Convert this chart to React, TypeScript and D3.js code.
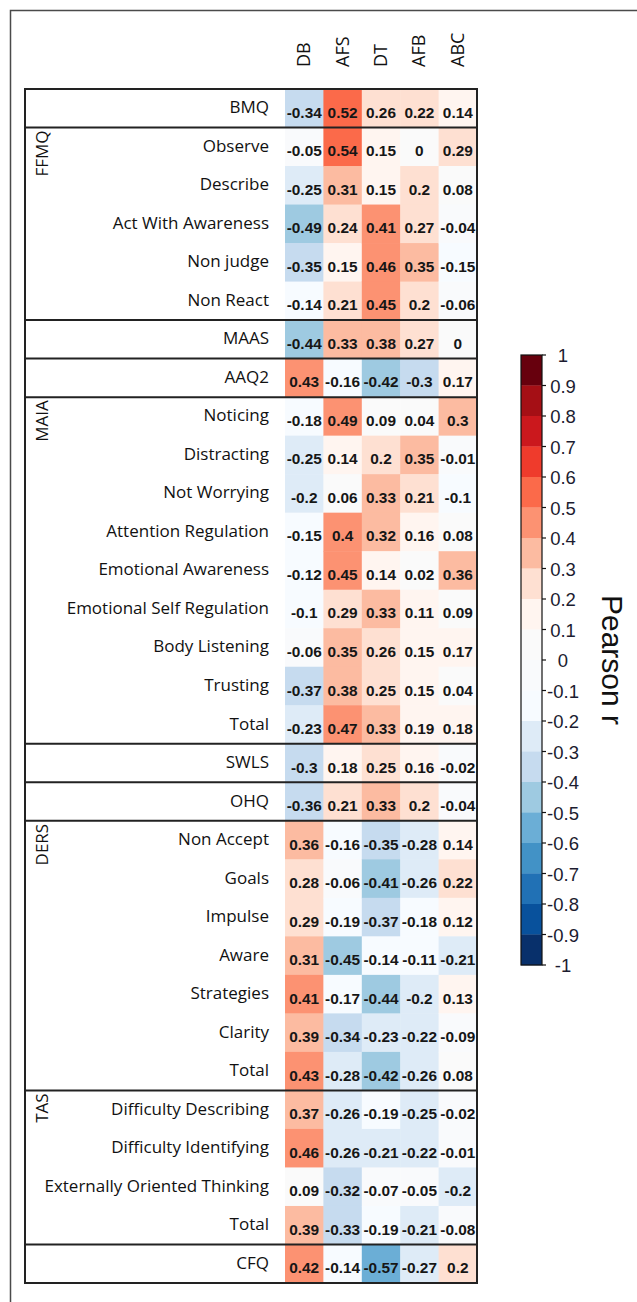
import React from "react";
import * as d3 from "d3";

const columns = ["DB", "AFS", "DT", "AFB", "ABC"];

const rowLabels = [
  "BMQ",
  "Observe", "Describe", "Act With Awareness", "Non judge", "Non React",
  "MAAS",
  "AAQ2",
  "Noticing", "Distracting", "Not Worrying", "Attention Regulation", "Emotional Awareness",
  "Emotional Self Regulation", "Body Listening", "Trusting", "Total",
  "SWLS",
  "OHQ",
  "Non Accept", "Goals", "Impulse", "Aware", "Strategies", "Clarity", "Total",
  "Difficulty Describing", "Difficulty Identifying", "Externally Oriented Thinking", "Total",
  "CFQ",
];

const groupNames = ["", "FFMQ", "", "", "MAIA", "", "", "DERS", "TAS", ""];
const groupSizes = [1, 5, 1, 1, 9, 1, 1, 7, 4, 1];

const DB = [-0.34, -0.05, -0.25, -0.49, -0.35, -0.14, -0.44, 0.43, -0.18, -0.25, -0.2, -0.15, -0.12, -0.1, -0.06, -0.37, -0.23, -0.3, -0.36, 0.36, 0.28, 0.29, 0.31, 0.41, 0.39, 0.43, 0.37, 0.46, 0.09, 0.39, 0.42];
const AFS = [0.52, 0.54, 0.31, 0.24, 0.15, 0.21, 0.33, -0.16, 0.49, 0.14, 0.06, 0.4, 0.45, 0.29, 0.35, 0.38, 0.47, 0.18, 0.21, -0.16, -0.06, -0.19, -0.45, -0.17, -0.34, -0.28, -0.26, -0.26, -0.32, -0.33, -0.14];
const DT = [0.26, 0.15, 0.15, 0.41, 0.46, 0.45, 0.38, -0.42, 0.09, 0.2, 0.33, 0.32, 0.14, 0.33, 0.26, 0.25, 0.33, 0.25, 0.33, -0.35, -0.41, -0.37, -0.14, -0.44, -0.23, -0.42, -0.19, -0.21, -0.07, -0.19, -0.57];
const AFB = [0.22, 0, 0.2, 0.27, 0.35, 0.2, 0.27, -0.3, 0.04, 0.35, 0.21, 0.16, 0.02, 0.11, 0.15, 0.15, 0.19, 0.16, 0.2, -0.28, -0.26, -0.18, -0.11, -0.2, -0.22, -0.26, -0.25, -0.22, -0.05, -0.21, -0.27];
const ABC = [0.14, 0.29, 0.08, -0.04, -0.15, -0.06, 0, 0.17, 0.3, -0.01, -0.1, 0.08, 0.36, 0.09, 0.17, 0.04, 0.18, -0.02, -0.04, 0.14, 0.22, 0.12, -0.21, 0.13, -0.09, 0.08, -0.02, -0.01, -0.2, -0.08, 0.2];

const seriesValues = [DB, AFS, DT, AFB, ABC];

const colorbarTicks = [1, 0.9, 0.8, 0.7, 0.6, 0.5, 0.4, 0.3, 0.2, 0.1, 0, -0.1, -0.2, -0.3, -0.4, -0.5, -0.6, -0.7, -0.8, -0.9, -1];
const binEdges = [0.1, 0.2, 0.3, 0.4, 0.5, 0.6, 0.7, 0.8, 0.9];
const redsPalette = ["#fafafa", "#fff5f0", "#fee0d2", "#fcbba1", "#fc9272", "#fb6a4a", "#ef3b2c", "#cb181d", "#a50f15", "#67000d"];
const bluesPalette = ["#f9fafc", "#f7fbff", "#deebf7", "#c6dbef", "#9ecae1", "#6baed6", "#4292c6", "#2171b5", "#08519c", "#08306b"];

const posColor = d3.scaleThreshold<number, string>().domain(binEdges).range(redsPalette);
const negColor = d3.scaleThreshold<number, string>().domain(binEdges).range(bluesPalette);
const colorOf = (v: number) => (v >= 0 ? posColor(v) : negColor(-v));

export default function App() {
  const W = 637;
  const H = 1302;
  const tableLeft = 25;
  const tableTop = 89;
  const tableBottom = 1283;
  const cellLeft = 285;
  const cellRight = 477;

  const x = d3.scaleBand<string>().domain(columns).range([cellLeft, cellRight]);
  const y = d3.scaleBand<number>().domain(d3.range(rowLabels.length)).range([tableTop, tableBottom]);
  const cbY = d3.scaleLinear().domain([-1, 1]).range([965, 355]);
  const cbX0 = 521;
  const cbX1 = 542;

  const groupStarts: number[] = Array.from(d3.cumsum([0, ...groupSizes]));
  groupStarts.unshift(0);

  const cbBins: { lo: number; hi: number }[] = [];
  for (let i = 0; i < colorbarTicks.length - 1; i++) {
    cbBins.push({ lo: colorbarTicks[i + 1], hi: colorbarTicks[i] });
  }

  const separators = groupStarts.slice(2, -1);

  return (
    <svg width={W} height={H} style={{ position: "absolute", left: 0, top: 0, display: "block", background: "#fff" }}>
      <rect x={10.5} y={10.5} width={800} height={1500} fill="none" stroke="#4a4a4a" strokeWidth={1.5} />

      {/* cells */}
      {seriesValues.map((vals, ci) =>
        vals.map((v, ri) => (
          <rect key={`c${ci}-${ri}`} x={x(columns[ci])!} y={y(ri)!} width={x.bandwidth() + 0.5} height={y.bandwidth() + 0.5} fill={colorOf(v)} />
        ))
      )}
      {seriesValues.map((vals, ci) =>
        vals.map((v, ri) => (
          <text key={`t${ci}-${ri}`}
            transform={`translate(${x(columns[ci])! + x.bandwidth() / 2},${y(ri)! + y.bandwidth() / 2 + 9.5}) scale(1.1,1)`}
            textAnchor="middle" fontFamily="Liberation Sans, Arial" fontWeight="bold" fontSize={14} fill="#161616">
            {String(v)}
          </text>
        ))
      )}

      {/* row labels */}
      {rowLabels.map((lab, ri) => (
        <text key={`r${ri}`} x={269} y={y(ri)! + y.bandwidth() / 2 + 5} textAnchor="end" fontFamily="Open Sans" fontSize={17} fill="#111">
          {lab}
        </text>
      ))}

      {/* group labels */}
      {groupNames.map((g, gi) =>
        g ? (
          <text key={`g${gi}`} transform={`translate(48,${y(groupStarts[gi + 1])! + 3}) rotate(-90)`} textAnchor="end" fontFamily="Open Sans" fontSize={17} fill="#111">
            {g}
          </text>
        ) : null
      )}

      {/* separators */}
      {separators.map((s, i) => (
        <line key={`s${i}`} x1={tableLeft} x2={cellRight} y1={y(s)!} y2={y(s)!} stroke="#222" strokeWidth={2} />
      ))}
      <rect x={tableLeft} y={tableTop} width={cellRight - tableLeft} height={tableBottom - tableTop} fill="none" stroke="#222" strokeWidth={2} />

      {/* column headers */}
      {columns.map((c) => (
        <text key={`h${c}`} transform={`translate(${x(c)! + x.bandwidth() / 2 + 6},67) rotate(-90)`} textAnchor="start" fontFamily="Open Sans" fontSize={18} fill="#111">
          {c}
        </text>
      ))}

      {/* colorbar */}
      {cbBins.map((b, i) => (
        <rect key={`b${i}`} x={cbX0} y={cbY(b.hi)} width={cbX1 - cbX0} height={cbY(b.lo) - cbY(b.hi) + 0.3}
          fill={colorOf(b.lo >= 0 ? b.lo : b.hi - 1e-9)} />
      ))}
      <rect x={cbX0} y={cbY(1)} width={cbX1 - cbX0} height={cbY(-1) - cbY(1)} fill="none" stroke="#111" strokeWidth={1.2} />
      {colorbarTicks.map((t) => (
        <g key={`k${t}`}>
          <line x1={cbX1} x2={cbX1 + 4} y1={cbY(t)} y2={cbY(t)} stroke="#111" strokeWidth={1.2} />
          <text x={563} y={cbY(t) + 7} textAnchor="middle" fontFamily="Liberation Sans, Arial" fontSize={18.5} fill="#1c1c30">
            {String(t)}
          </text>
        </g>
      ))}
      <text transform={`translate(602,${cbY(0)}) rotate(90)`} textAnchor="middle" fontFamily="Liberation Sans, Arial" fontSize={30} fill="#111">
        Pearson r
      </text>
    </svg>
  );
}
